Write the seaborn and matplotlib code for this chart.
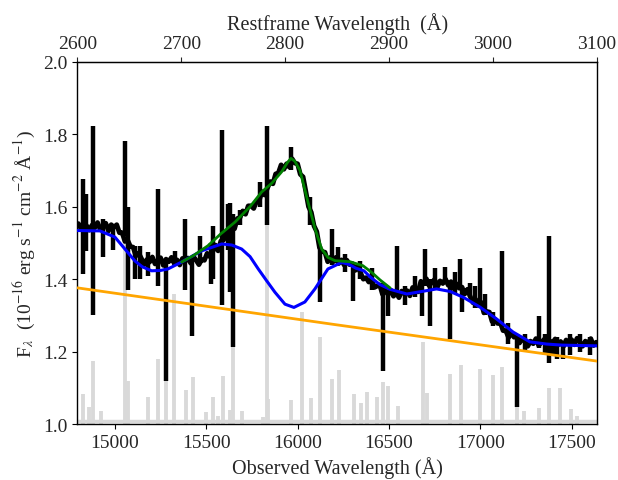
import numpy as np
import matplotlib
matplotlib.use("Agg")
import matplotlib.pyplot as plt
import seaborn as sns

# redshift factor (1+z) linking observed and restframe axes
one_plus_z = 5.69

# observed spectrum (continuum part), linear grid of 15 A pixels
obs_wave = np.arange(14800, 17650, 15)
obs_flux = [
    1.553, 1.539, 1.557, 1.547, 1.535, 1.549, 1.542, 1.556, 1.537, 1.546,
    1.554, 1.533, 1.550, 1.543, 1.550, 1.528, 1.528, 1.504, 1.507, 1.490,
    1.488, 1.464, 1.472, 1.457, 1.440, 1.454, 1.447, 1.461, 1.442, 1.451,
    1.459, 1.438, 1.455, 1.448, 1.460, 1.443, 1.453, 1.439, 1.457, 1.450,
    1.458, 1.444, 1.462, 1.452, 1.440, 1.454, 1.452, 1.471, 1.462, 1.476,
    1.494, 1.478, 1.505, 1.508, 1.530, 1.523, 1.543, 1.539, 1.567, 1.570,
    1.588, 1.579, 1.602, 1.602, 1.595, 1.614, 1.617, 1.641, 1.632, 1.651,
    1.669, 1.663, 1.690, 1.693, 1.715, 1.703, 1.718, 1.709, 1.732, 1.720,
    1.718, 1.689, 1.682, 1.642, 1.600, 1.584, 1.547, 1.531, 1.487, 1.476,
    1.474, 1.448, 1.460, 1.448, 1.460, 1.443, 1.453, 1.439, 1.452, 1.440,
    1.443, 1.424, 1.437, 1.417, 1.400, 1.404, 1.392, 1.401, 1.377, 1.381,
    1.384, 1.358, 1.370, 1.358, 1.370, 1.353, 1.363, 1.349, 1.367, 1.360,
    1.368, 1.354, 1.377, 1.372, 1.365, 1.394, 1.387, 1.401, 1.382, 1.391,
    1.399, 1.378, 1.395, 1.388, 1.400, 1.383, 1.393, 1.374, 1.387, 1.375,
    1.378, 1.359, 1.372, 1.352, 1.335, 1.344, 1.327, 1.336, 1.307, 1.311,
    1.309, 1.283, 1.290, 1.278, 1.280, 1.258, 1.258, 1.239, 1.252, 1.240,
    1.243, 1.224, 1.237, 1.227, 1.215, 1.229, 1.222, 1.236, 1.217, 1.226,
    1.234, 1.213, 1.230, 1.223, 1.235, 1.218, 1.228, 1.214, 1.232, 1.225,
    1.233, 1.219, 1.237, 1.227, 1.215, 1.229, 1.222, 1.236, 1.217, 1.226,
]

# single-pixel spikes in the spectrum (bad pixels / sky residuals)
spike_wave = [14825, 14842, 14880, 14935, 14990, 15054, 15072, 15110, 15137,
              15180, 15234, 15280, 15329, 15383, 15422, 15466, 15526, 15537,
              15585, 15619, 15630, 15646, 15685, 15794, 15831, 15964, 16068,
              16122, 16188, 16221, 16259, 16303, 16342, 16407, 16467, 16495,
              16544, 16588, 16643, 16681, 16698, 16725, 16752, 16807, 16834,
              16862, 16889, 16900, 16944, 16971, 16998, 17026, 17070, 17119,
              17152, 17201, 17245, 17321, 17354, 17376, 17398, 17420, 17452,
              17491, 17546, 17601]
spike_lo = [1.414, 1.477, 1.30, 1.46, 1.48, 1.52, 1.37, 1.40, 1.40,
            1.41, 1.382, 1.12, 1.44, 1.37, 1.244, 1.45, 1.386, 1.40,
            1.33, 1.48, 1.364, 1.212, 1.55, 1.60, 1.55, 1.70, 1.55,
            1.337, 1.44, 1.44, 1.42, 1.34, 1.40, 1.37, 1.146, 1.298,
            1.355, 1.33, 1.35, 1.298, 1.38, 1.27, 1.37, 1.39, 1.235,
            1.36, 1.37, 1.31, 1.35, 1.32, 1.33, 1.30, 1.27, 1.28,
            1.22, 1.047, 1.20, 1.21, 1.19, 1.17, 1.19, 1.18, 1.18,
            1.19, 1.20, 1.19]
spike_hi = [1.676, 1.635, 1.823, 1.565, 1.54, 1.782, 1.60, 1.49, 1.49,
            1.475, 1.649, 1.45, 1.478, 1.566, 1.46, 1.52, 1.50, 1.547,
            1.81, 1.607, 1.61, 1.58, 1.59, 1.668, 1.823, 1.765, 1.627,
            1.49, 1.538, 1.489, 1.47, 1.44, 1.45, 1.43, 1.39, 1.37,
            1.492, 1.38, 1.41, 1.38, 1.483, 1.40, 1.43, 1.433, 1.39,
            1.42, 1.455, 1.37, 1.39, 1.38, 1.43, 1.36, 1.31, 1.478,
            1.28, 1.25, 1.25, 1.298, 1.25, 1.519, 1.23, 1.24, 1.23,
            1.25, 1.25, 1.24]

# continuum + FeII model (blue)
blue_wave = [14794, 14918, 15000, 15055, 15110, 15150, 15201, 15250, 15290,
             15365, 15475, 15585, 15640, 15694, 15740, 15785, 15830, 15876,
             15931, 15980, 16040, 16095, 16166, 16241, 16280, 16320, 16363,
             16400, 16451, 16506, 16598, 16680, 16761, 16835, 16907, 16998,
             17090, 17180, 17272, 17363, 17450, 17639]
blue_flux = [1.534, 1.533, 1.516, 1.483, 1.45, 1.434, 1.423, 1.424, 1.428,
             1.447, 1.478, 1.497, 1.494, 1.483, 1.462, 1.428, 1.396, 1.364,
             1.331, 1.322, 1.337, 1.373, 1.428, 1.446, 1.441, 1.43, 1.423,
             1.405, 1.385, 1.372, 1.359, 1.366, 1.373, 1.366, 1.35, 1.323,
             1.29, 1.254, 1.227, 1.221, 1.218, 1.216]

# full model around MgII (green)
green_wave = [15365, 15430, 15509, 15580, 15657, 15740, 15803, 15860, 15913,
              15945, 15964, 15985, 16013, 16057, 16095, 16132, 16166, 16205,
              16287, 16358, 16407, 16451, 16506]
green_flux = [1.447, 1.465, 1.492, 1.525, 1.557, 1.60, 1.640, 1.665, 1.696,
              1.722, 1.733, 1.725, 1.70, 1.613, 1.54, 1.483, 1.46, 1.451,
              1.448, 1.437, 1.418, 1.398, 1.376]

# power-law continuum (orange)
cont_wave = [14794, 16200, 17639]
cont_flux = [1.376, 1.275, 1.174]

# scaled sky emission
sky_wave = [14825, 14858, 14880, 14924, 15055, 15072, 15181, 15236, 15280,
            15323, 15389, 15427, 15498, 15537, 15564, 15592, 15630, 15646,
            15696, 15811, 15833, 15840, 15963, 16024, 16073, 16125, 16188,
            16226, 16308, 16347, 16380, 16435, 16467, 16495, 16549, 16686,
            16708, 16834, 16894, 16998, 17070, 17119, 17201, 17240, 17321,
            17376, 17436, 17496, 17529]
sky_top = [1.083, 1.047, 1.174, 1.036, 1.635, 1.12, 1.074, 1.18, 1.157,
           1.36, 1.094, 1.13, 1.033, 1.075, 1.022, 1.133, 1.04, 1.30,
           1.036, 1.02, 1.585, 1.07, 1.067, 1.31, 1.072, 1.24, 1.125,
           1.149, 1.083, 1.058, 1.09, 1.074, 1.116, 1.105, 1.05, 1.227,
           1.086, 1.138, 1.163, 1.152, 1.135, 1.157, 1.047, 1.036, 1.044,
           1.099, 1.099, 1.041, 1.022]
sky_base = 1.009

sns.set_style("ticks")
plt.rcParams['font.family'] = ['Liberation Serif', 'DejaVu Serif']
plt.rcParams['mathtext.fontset'] = 'stix'

fig = plt.figure(figsize=(6.18, 4.81), dpi=100)
ax = fig.add_axes([0.125, 0.116, 0.841, 0.754])

ax.vlines(sky_wave, 1.0, sky_top, color='#d9d9d9', lw=2.8, zorder=1)
ax.axhline(sky_base, color='#d9d9d9', lw=2.5, zorder=1)

sns.lineplot(x=obs_wave, y=obs_flux, color='black', lw=3.5, ax=ax, zorder=2)
ax.vlines(spike_wave, spike_lo, spike_hi, color='black', lw=3.2, zorder=2)
sns.lineplot(x=cont_wave, y=cont_flux, color='orange', lw=2, ax=ax, zorder=3)
sns.lineplot(x=blue_wave, y=blue_flux, color='blue', lw=2.2, ax=ax, zorder=4)
sns.lineplot(x=green_wave, y=green_flux, color='green', lw=2, ax=ax, zorder=5)

ax.set_xlim(2600 * one_plus_z, 3100 * one_plus_z)
ax.set_ylim(1.0, 2.0)
ax.set_xticks([15000, 15500, 16000, 16500, 17000, 17500])
ax.set_yticks([1.0, 1.2, 1.4, 1.6, 1.8, 2.0])
ax.yaxis.set_major_formatter(matplotlib.ticker.FormatStrFormatter('%.1f'))
ax.tick_params(labelsize=14, direction='out', color='black')
for s in ax.spines.values():
    s.set_color('black')
    s.set_linewidth(1)

ax.set_xlabel('Observed Wavelength (Å)', fontsize=14.5)
ax.set_ylabel(r'F$_\lambda$  (10$^{-16}$ erg s$^{-1}$ cm$^{-2}$ Å$^{-1}$)', fontsize=14)

top = ax.secondary_xaxis('top', functions=(lambda x: x / one_plus_z,
                                             lambda x: x * one_plus_z))
top.set_xticks([2600, 2700, 2800, 2900, 3000, 3100])
top.tick_params(labelsize=14, direction='out')
top.set_xlabel('Restframe Wavelength  (Å)', fontsize=14.5)

fig.savefig('out.png', dpi=100)
plt.close()
